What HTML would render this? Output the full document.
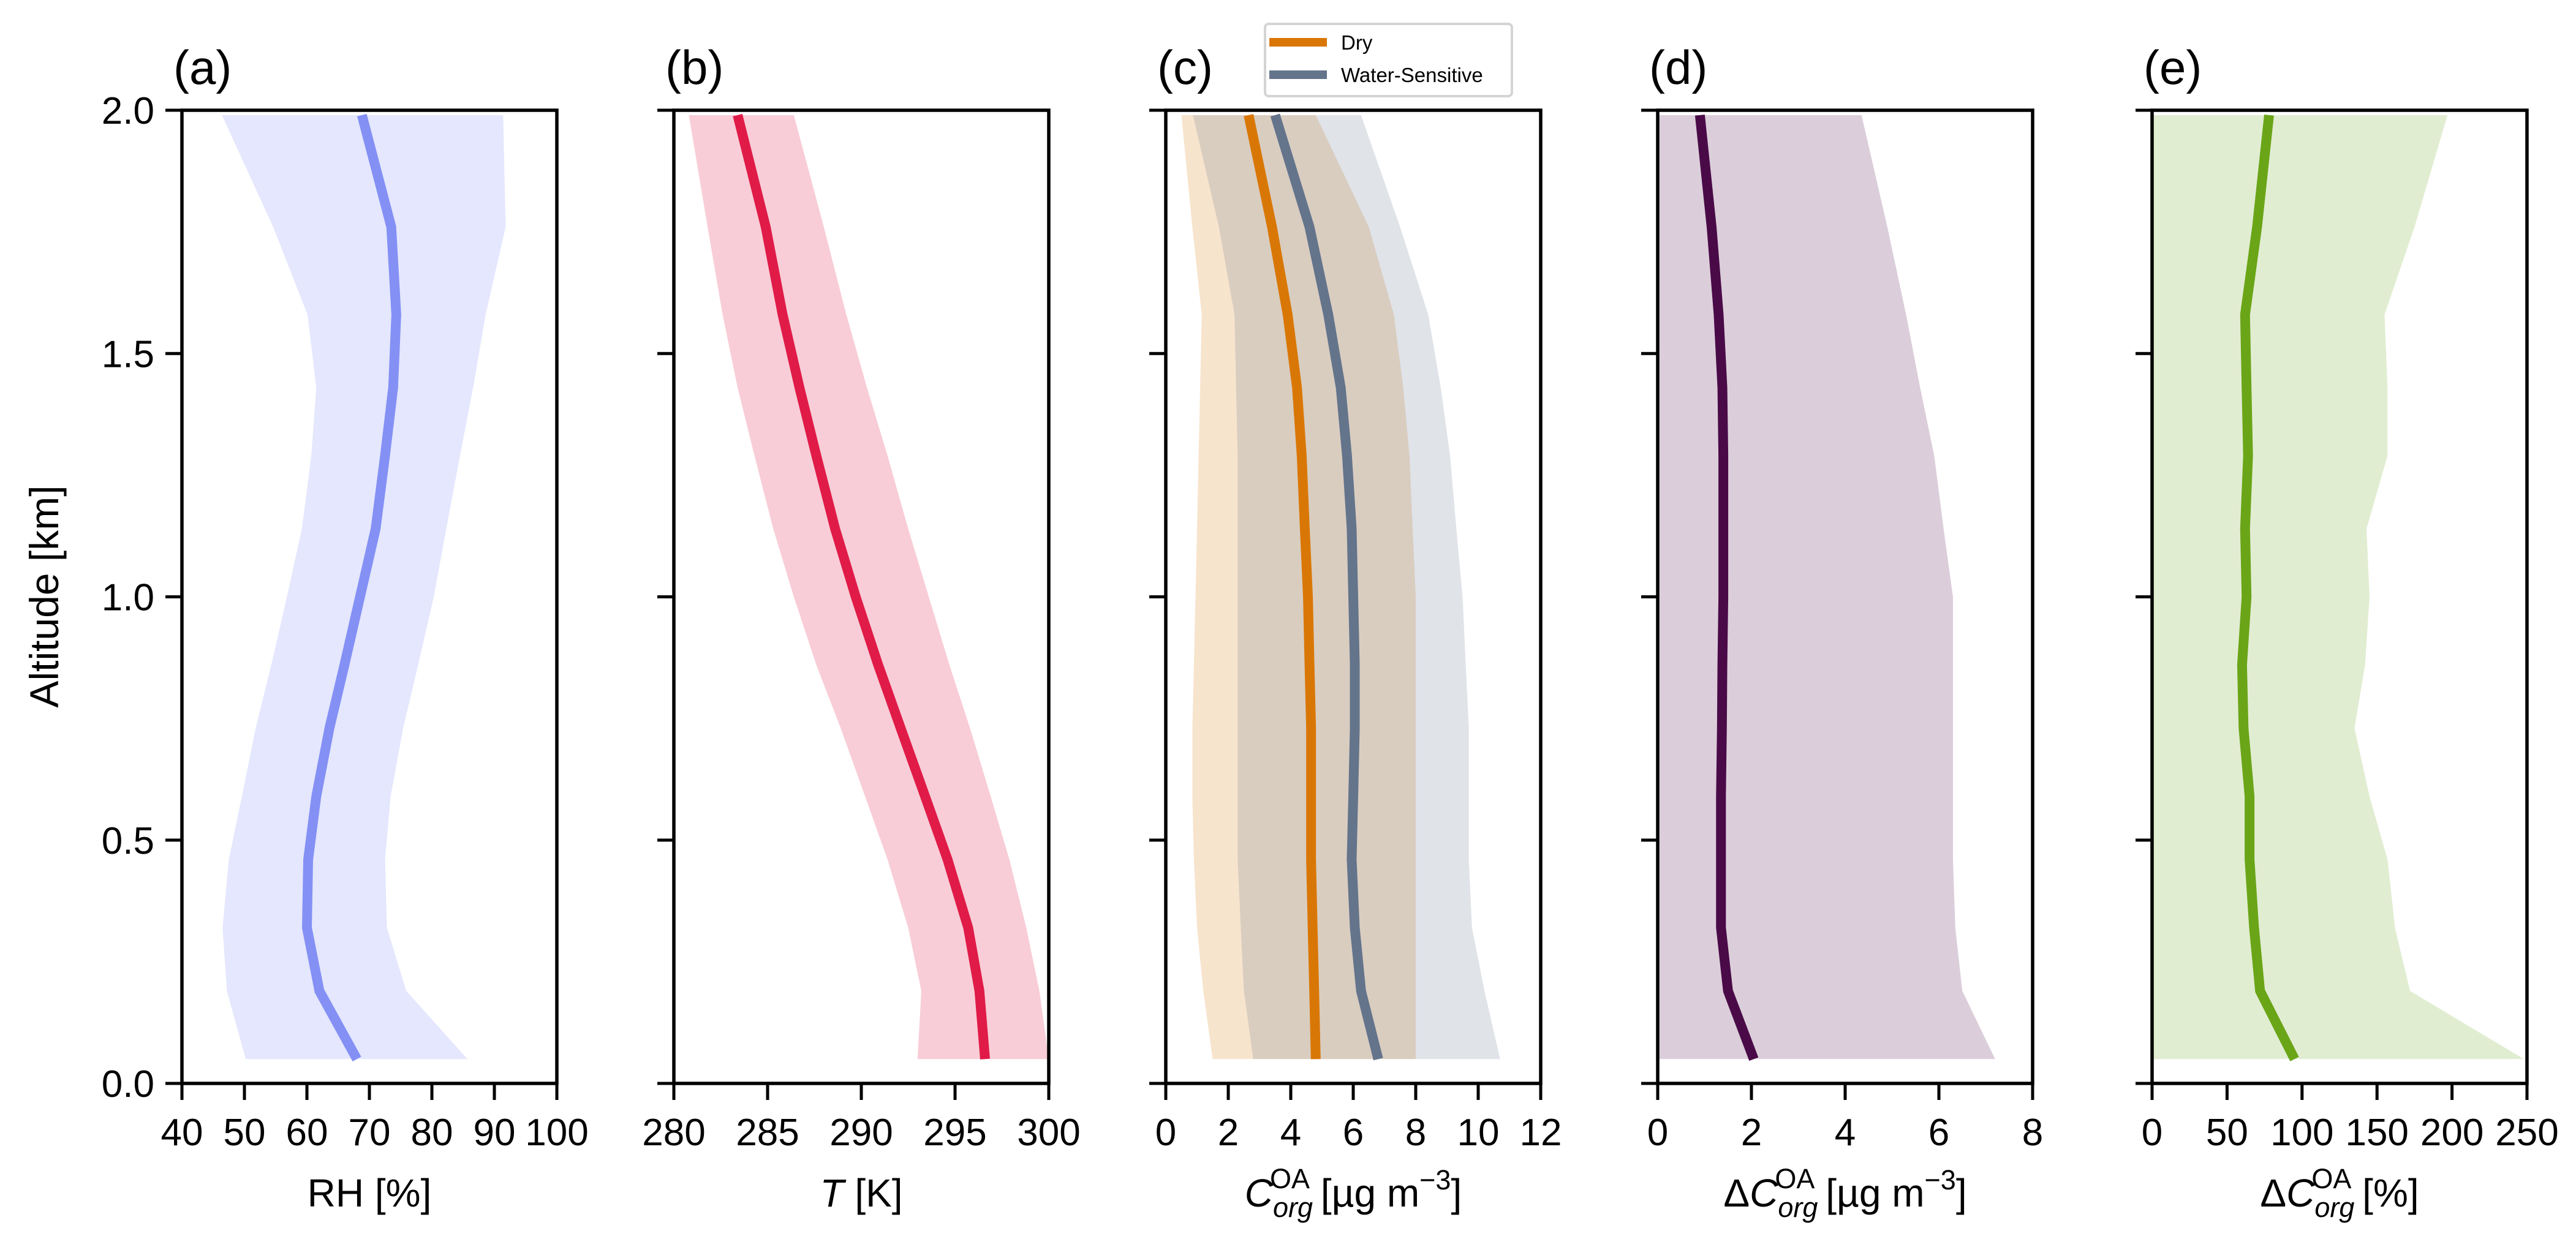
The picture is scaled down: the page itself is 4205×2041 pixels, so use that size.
<!DOCTYPE html>
<html><head><meta charset="utf-8"><style>
html,body{margin:0;padding:0;background:#fff}
svg{display:block;font-family:"Liberation Sans",Arial,sans-serif}
</style></head><body>
<svg id="fig" width="4205" height="2041" viewBox="0 0 4205 2041" xmlns="http://www.w3.org/2000/svg"></svg>
<script>
const alt = [0.05,0.19,0.32,0.46,0.59,0.73,0.86,1.0,1.14,1.29,1.43,1.58,1.76,1.99];
const yTicks = [0,0.5,1.0,1.5,2.0];
const yTickLabels = ["0.0","0.5","1.0","1.5","2.0"];
// (a) RH
const rhMed = [68,62,60,60.2,61.5,63.6,66,68.5,71,72.5,73.8,74.3,73.5,68.8];
const rhLo = [50.2,47.2,46.5,47.5,49.6,51.8,54.3,56.8,59.2,60.7,61.5,60.1,54.6,46.4];
const rhHi = [85.7,75.9,72.8,72.5,73.4,75.4,77.8,80.3,82.3,84.5,86.6,88.6,91.8,91.4];
const rhTicks = [40,50,60,70,80,90,100];
// (b) T
const tMed = [296.6,296.3,295.7,294.6,293.4,292.1,290.9,289.7,288.6,287.6,286.7,285.8,284.9,283.4];
const tLo = [293,293.2,292.5,291.4,290.2,288.9,287.6,286.4,285.3,284.3,283.4,282.6,281.8,280.8];
const tHi = [300,299.5,298.8,297.9,296.9,295.8,294.7,293.6,292.5,291.4,290.3,289.2,288,286.4];
const tTicks = [280,285,290,295,300];
// (c) Corg
const dryMed = [4.8,4.75,4.7,4.65,4.65,4.65,4.6,4.55,4.45,4.35,4.2,3.9,3.4,2.65];
const dryLo = [1.5,1.2,1.0,0.9,0.85,0.85,0.9,0.95,1.0,1.05,1.1,1.15,0.85,0.5];
const dryHi = [8.0,8.0,8.0,8.0,8.0,8.0,8.0,8.0,7.9,7.8,7.6,7.3,6.5,4.8];
const wsMed = [6.8,6.25,6.05,5.95,6.0,6.05,6.05,6.0,5.95,5.8,5.6,5.2,4.6,3.5];
const wsLo = [2.8,2.5,2.4,2.3,2.3,2.3,2.3,2.3,2.3,2.3,2.25,2.2,1.7,0.87];
const wsHi = [10.7,10.2,9.8,9.7,9.7,9.7,9.6,9.5,9.3,9.1,8.8,8.4,7.5,6.25];
const cTicks = [0,2,4,6,8,10,12];
// (d) dCorg
const dMed = [2.05,1.5,1.35,1.35,1.35,1.37,1.38,1.4,1.4,1.4,1.38,1.3,1.15,0.9];
const dLo = [0,0,0,0,0,0,0,0,0,0,0,0,0,0];
const dHi = [7.2,6.5,6.35,6.3,6.3,6.3,6.3,6.3,6.1,5.9,5.6,5.3,4.9,4.35];
const dTicks = [0,2,4,6,8];
// (e) dCorg %
const eMed = [95,72,68,65,65,61,60,63,62,64,63,62,70,78];
const eLo = [0,0,0,0,0,0,0,0,0,0,0,0,0,0];
const eHi = [248,172,162,157,145,135,142,145,143,157,157,155,175,197];
const eTicks = [0,50,100,150,200,250];

const NS="http://www.w3.org/2000/svg";
const svg=document.getElementById('fig');
function mk(tag,attrs,parent){const e=document.createElementNS(NS,tag);for(const k in attrs)e.setAttribute(k,attrs[k]);(parent||svg).appendChild(e);return e;}
const TOP=180,BOT=1769,W=612;
function yS(v){return BOT-(v/2.0)*(BOT-TOP);}

const panels=[
 {id:'a',left:297,xmin:40,xmax:100,ticks:rhTicks,bands:[[rhLo,rhHi,'rgba(132,144,244,0.22)']],lines:[[rhMed,'#8490f4']],ylabels:true},
 {id:'b',left:1100,xmin:280,xmax:300,ticks:tTicks,bands:[[tLo,tHi,'rgba(224,27,72,0.22)']],lines:[[tMed,'#e01b48']]},
 {id:'c',left:1903,xmin:0,xmax:12,ticks:cTicks,bands:[[dryLo,dryHi,'rgba(217,119,6,0.2)'],[wsLo,wsHi,'rgba(100,116,139,0.2)']],lines:[[dryMed,'#d97706'],[wsMed,'#64748b']]},
 {id:'d',left:2706,xmin:0,xmax:8,ticks:dTicks,bands:[[dLo,dHi,'rgba(74,10,72,0.2)']],lines:[[dMed,'#4a0a48']]},
 {id:'e',left:3513,xmin:0,xmax:250,ticks:eTicks,bands:[[eLo,eHi,'rgba(106,165,24,0.2)']],lines:[[eMed,'#6aa518']]}
];

panels.forEach(p=>{
  const g=mk('g',{});
  
  
  const xS=v=>p.left+(v-p.xmin)/(p.xmax-p.xmin)*W;
  p.bands.forEach((b,bi)=>{
    let pts=[];
    for(let i=0;i<alt.length;i++)pts.push(xS(b[0][i])+','+yS(alt[i]));
    for(let i=alt.length-1;i>=0;i--)pts.push(xS(b[1][i])+','+yS(alt[i]));
    const pg=mk('polygon',{points:pts.join(' '),fill:b[2]},g);
    
    
  });
  p.lines.forEach((l,li)=>{
    const pts=alt.map((a,i)=>xS(l[0][i])+','+yS(a)).join(' ');
    const pl=mk('polyline',{points:pts,fill:'none',stroke:l[1],'stroke-width':16,'stroke-linejoin':'miter'},g);
    
    
  });
  const fr=mk('rect',{x:p.left,y:TOP,width:W,height:BOT-TOP,fill:'none',stroke:'#000','stroke-width':5.5},g);
  
  
  p.ticks.forEach(t=>{
    const x=xS(t);
    mk('line',{x1:x,x2:x,y1:BOT,y2:BOT+27,stroke:'#000','stroke-width':5},g);
    const tx=mk('text',{x:x,y:1870,'font-size':62,'text-anchor':'middle'},g);
    tx.textContent=String(t);
    
    
  });
  yTicks.forEach((t,i)=>{
    const y=yS(t);
    mk('line',{x1:p.left-27,x2:p.left,y1:y,y2:y,stroke:'#000','stroke-width':5},g);
    if(p.ylabels){
      const tx=mk('text',{x:p.left-45,y:y+22,'font-size':62,'text-anchor':'end'},g);
      tx.textContent=yTickLabels[i];
      
      
    }
  });
  const pl=mk('text',{x:p.left-14,y:137,'font-size':78},g);
  pl.textContent='('+p.id+')';
  
  
  p.cx=p.left+W/2;
});

function xTitle(cx,html,name){
  const t=mk('text',{x:cx,y:1970,'font-size':64,'text-anchor':'middle'});
  t.innerHTML=html;
  
  
}
const C='<tspan font-style="italic">C</tspan><tspan font-size="45" font-style="italic" dy="17">org</tspan><tspan font-size="45" dx="-70" dy="-47">OA</tspan><tspan dy="30"> [µg m</tspan><tspan font-size="45" dy="-28">−3</tspan><tspan dy="28">]</tspan>';
xTitle(panels[0].cx,'RH [%]','x-axis-title-rh');
xTitle(panels[1].cx,'<tspan font-style="italic">T</tspan> [K]','x-axis-title-t');
xTitle(panels[2].cx,C,'x-axis-title-corg');
xTitle(panels[3].cx,'Δ'+C,'x-axis-title-dcorg');
xTitle(panels[4].cx,'Δ<tspan font-style="italic">C</tspan><tspan font-size="45" font-style="italic" dy="17">org</tspan><tspan font-size="45" dx="-70" dy="-47">OA</tspan><tspan dy="30"> [%]</tspan>','x-axis-title-dcorg-pct');

const yt=mk('text',{x:0,y:0,'font-size':66,'text-anchor':'middle',transform:'translate(95,974) rotate(-90)'});
yt.textContent='Altitude [km]';



const lg=mk('g',{});


mk('rect',{x:2065,y:39,width:403,height:118,rx:6,fill:'#fff',stroke:'#d4d4d4','stroke-width':4},lg);
const legItems=[['Dry','#d97706',69],['Water-Sensitive','#64748b',122]];
legItems.forEach(it=>{
  const ln=mk('line',{x1:2072,x2:2166,y1:it[2],y2:it[2],stroke:it[1],'stroke-width':14},lg);
  
  
  const tx=mk('text',{x:2189,y:it[2]+12,'font-size':33},lg);
  tx.textContent=it[0];
  
  
});
</script>
</body></html>
